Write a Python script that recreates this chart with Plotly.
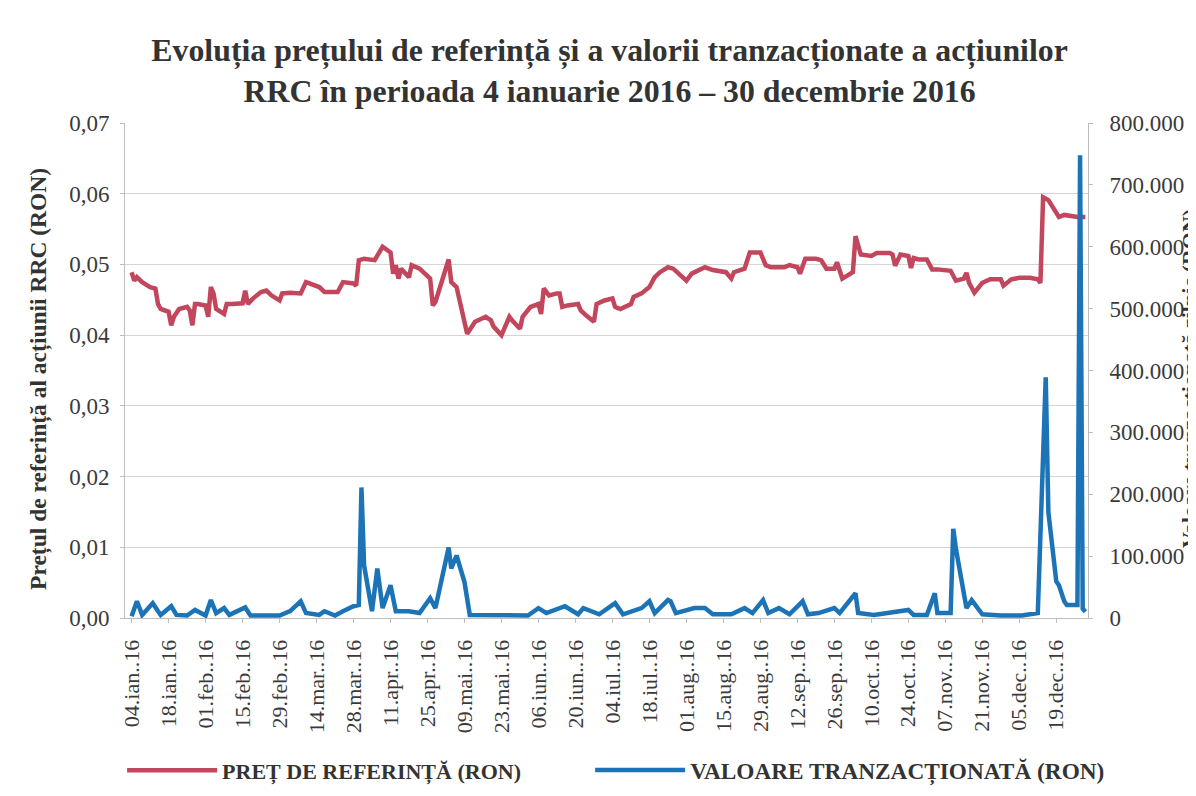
import plotly.graph_objects as go

# Reference price (RON) at its turning points
price_dates = [
    "2016-01-04", "2016-01-05", "2016-01-06", "2016-01-08", "2016-01-11", "2016-01-13", "2016-01-14",
    "2016-01-15", "2016-01-18", "2016-01-19", "2016-01-20", "2016-01-22", "2016-01-25", "2016-01-26",
    "2016-01-27", "2016-01-28", "2016-01-29",
    "2016-02-01", "2016-02-02", "2016-02-03", "2016-02-04", "2016-02-05", "2016-02-08", "2016-02-09",
    "2016-02-11", "2016-02-15", "2016-02-16", "2016-02-17", "2016-02-19", "2016-02-22", "2016-02-24",
    "2016-02-26", "2016-02-29",
    "2016-03-01", "2016-03-04", "2016-03-08", "2016-03-10", "2016-03-14", "2016-03-15", "2016-03-17",
    "2016-03-22", "2016-03-24", "2016-03-28", "2016-03-29", "2016-03-30",
    "2016-04-01", "2016-04-05", "2016-04-08", "2016-04-11", "2016-04-12", "2016-04-13", "2016-04-14",
    "2016-04-15", "2016-04-18", "2016-04-19", "2016-04-22", "2016-04-26", "2016-04-27", "2016-04-28",
    "2016-05-03", "2016-05-04", "2016-05-06", "2016-05-10", "2016-05-13", "2016-05-17", "2016-05-19",
    "2016-05-20", "2016-05-23", "2016-05-26", "2016-05-27", "2016-05-30", "2016-05-31",
    "2016-06-03", "2016-06-06", "2016-06-07", "2016-06-08", "2016-06-10", "2016-06-13", "2016-06-14",
    "2016-06-15", "2016-06-17", "2016-06-21", "2016-06-22", "2016-06-24", "2016-06-27", "2016-06-28",
    "2016-07-01", "2016-07-04", "2016-07-05", "2016-07-07", "2016-07-11", "2016-07-12", "2016-07-15",
    "2016-07-18", "2016-07-20", "2016-07-22", "2016-07-25", "2016-07-27", "2016-07-29",
    "2016-08-01", "2016-08-03", "2016-08-08", "2016-08-11", "2016-08-16", "2016-08-18", "2016-08-19",
    "2016-08-23", "2016-08-25", "2016-08-29", "2016-08-31",
    "2016-09-02", "2016-09-07", "2016-09-09", "2016-09-12", "2016-09-13", "2016-09-15", "2016-09-19",
    "2016-09-21", "2016-09-23", "2016-09-26", "2016-09-27", "2016-09-29",
    "2016-10-03", "2016-10-04", "2016-10-06", "2016-10-10", "2016-10-12", "2016-10-17", "2016-10-18",
    "2016-10-19", "2016-10-21", "2016-10-24", "2016-10-25", "2016-10-26", "2016-10-28", "2016-10-31",
    "2016-11-02", "2016-11-04", "2016-11-09", "2016-11-11", "2016-11-14", "2016-11-15", "2016-11-16",
    "2016-11-18", "2016-11-21", "2016-11-24", "2016-11-28", "2016-11-29",
    "2016-12-02", "2016-12-05", "2016-12-09", "2016-12-12", "2016-12-13", "2016-12-14", "2016-12-16",
    "2016-12-20", "2016-12-22", "2016-12-27", "2016-12-30",
]
price_values = [
    0.0489, 0.0477, 0.0482, 0.0475, 0.0468, 0.0466, 0.0444,
    0.0437, 0.0433, 0.0414, 0.0426, 0.0437, 0.0440, 0.0435,
    0.0414, 0.0444, 0.0444,
    0.0442, 0.0426, 0.0468, 0.0459, 0.0437, 0.0430, 0.0444,
    0.0444, 0.0445, 0.0463, 0.0444, 0.0452, 0.0461, 0.0463,
    0.0456, 0.0449,
    0.0459, 0.0460, 0.0459, 0.0475, 0.0468, 0.0468, 0.0461,
    0.0461, 0.0475, 0.0473, 0.0470, 0.0506,
    0.0508, 0.0506, 0.0525, 0.0517, 0.0487, 0.0499, 0.0480,
    0.0494, 0.0482, 0.0499, 0.0494, 0.0480, 0.0442, 0.0447,
    0.0507, 0.0475, 0.0468, 0.0402, 0.0419, 0.0426, 0.0421,
    0.0412, 0.0400, 0.0426, 0.0421, 0.0409, 0.0426,
    0.0440, 0.0444, 0.0430, 0.0466, 0.0456, 0.0459, 0.0459,
    0.0440, 0.0442, 0.0444, 0.0435, 0.0428, 0.0419, 0.0444,
    0.0449, 0.0452, 0.0440, 0.0437, 0.0444, 0.0454, 0.0459,
    0.0468, 0.0482, 0.0489, 0.0496, 0.0494, 0.0487,
    0.0477, 0.0487, 0.0496, 0.0492, 0.0489, 0.0480, 0.0489,
    0.0494, 0.0517, 0.0517, 0.0499,
    0.0496, 0.0496, 0.0499, 0.0496, 0.0487, 0.0508, 0.0508,
    0.0506, 0.0494, 0.0494, 0.0503, 0.0480,
    0.0489, 0.0540, 0.0514, 0.0512, 0.0516, 0.0516, 0.0514,
    0.0498, 0.0514, 0.0512, 0.0495, 0.0509, 0.0507, 0.0507,
    0.0493, 0.0493, 0.0491, 0.0477, 0.0480, 0.0488, 0.0474,
    0.0460, 0.0474, 0.0479, 0.0479, 0.0470,
    0.0479, 0.0481, 0.0481, 0.0479, 0.0474, 0.0595, 0.0591,
    0.0567, 0.0570, 0.0567, 0.0567,
]

# Daily traded value (RON)
volume_dates = [
    "2016-01-04", "2016-01-06", "2016-01-08", "2016-01-12", "2016-01-14", "2016-01-15", "2016-01-19",
    "2016-01-21", "2016-01-25", "2016-01-28", "2016-02-01", "2016-02-03", "2016-02-05", "2016-02-08",
    "2016-02-10", "2016-02-16", "2016-02-18", "2016-02-23", "2016-02-29", "2016-03-04", "2016-03-08",
    "2016-03-10", "2016-03-15", "2016-03-17", "2016-03-21", "2016-03-24", "2016-03-28", "2016-03-30",
    "2016-03-31", "2016-04-01", "2016-04-04", "2016-04-06", "2016-04-08", "2016-04-11", "2016-04-13",
    "2016-04-18", "2016-04-22", "2016-04-26", "2016-04-28", "2016-05-03", "2016-05-04", "2016-05-06",
    "2016-05-09", "2016-05-11", "2016-05-20", "2016-06-02", "2016-06-06", "2016-06-09", "2016-06-16",
    "2016-06-21", "2016-06-23", "2016-06-29", "2016-07-05", "2016-07-08", "2016-07-15", "2016-07-18",
    "2016-07-20", "2016-07-25", "2016-07-26", "2016-07-28", "2016-08-04", "2016-08-08", "2016-08-11",
    "2016-08-18", "2016-08-23", "2016-08-26", "2016-08-30", "2016-09-01", "2016-09-05", "2016-09-09",
    "2016-09-14", "2016-09-16", "2016-09-20", "2016-09-26", "2016-09-28", "2016-10-04", "2016-10-05",
    "2016-10-11", "2016-10-24", "2016-10-26", "2016-10-31", "2016-11-03", "2016-11-04", "2016-11-09",
    "2016-11-10", "2016-11-11", "2016-11-15", "2016-11-17", "2016-11-21", "2016-11-28", "2016-12-06",
    "2016-12-12", "2016-12-15", "2016-12-16", "2016-12-19", "2016-12-20", "2016-12-22", "2016-12-23",
    "2016-12-27", "2016-12-28", "2016-12-29", "2016-12-30",
]
volume_values = [
    3000, 27000, 5000, 24000, 11000, 5000, 19000,
    5000, 4000, 13000, 4000, 29000, 8000, 16000,
    5000, 17000, 4000, 4000, 4000, 11000, 27000,
    8000, 5000, 11000, 4000, 11000, 19000, 21000,
    211000, 85000, 11000, 80000, 16000, 53000, 11000,
    11000, 8000, 32000, 16000, 114000, 80000, 101000,
    58000, 5000, 4000, 4000, 16000, 8000, 19000,
    6000, 16000, 6000, 24000, 6000, 16000, 27000,
    8000, 29000, 27000, 8000, 16000, 16000, 6000,
    6000, 16000, 8000, 29000, 8000, 16000, 6000,
    27000, 6000, 8000, 16000, 8000, 40000, 8000,
    5000, 13000, 5000, 5000, 40000, 8000, 8000,
    144000, 112000, 16000, 29000, 6000, 4000, 4000,
    8000, 389000, 171000, 59000, 53000, 27000, 21000,
    21000, 748000, 15000, 10000,
]

tick_dates = [
    "2016-01-04", "2016-01-18", "2016-02-01", "2016-02-15", "2016-02-29", "2016-03-14", "2016-03-28",
    "2016-04-11", "2016-04-25", "2016-05-09", "2016-05-23", "2016-06-06", "2016-06-20", "2016-07-04",
    "2016-07-18", "2016-08-01", "2016-08-15", "2016-08-29", "2016-09-12", "2016-09-26", "2016-10-10",
    "2016-10-24", "2016-11-07", "2016-11-21", "2016-12-05", "2016-12-19",
]
tick_labels = [
    "04.ian..16", "18.ian..16", "01.feb..16", "15.feb..16", "29.feb..16", "14.mar..16", "28.mar..16",
    "11.apr..16", "25.apr..16", "09.mai..16", "23.mai..16", "06.iun..16", "20.iun..16", "04.iul..16",
    "18.iul..16", "01.aug..16", "15.aug..16", "29.aug..16", "12.sep..16", "26.sep..16", "10.oct..16",
    "24.oct..16", "07.nov..16", "21.nov..16", "05.dec..16", "19.dec..16",
]

FONT = "Liberation Serif, Times New Roman, serif"
TEXT = "#3a3a3a"
DARK = "#333333"
RED = "#c2475c"
BLUE = "#1c74b6"
GRID = "#d4d4d4"
AXIS = "#bdbdbd"

fig = go.Figure()
fig.add_trace(go.Scatter(
    x=price_dates, y=price_values, mode="lines", name="PREȚ DE REFERINȚĂ (RON)",
    line=dict(color=RED, width=4.5), yaxis="y", legend="legend", showlegend=True,
))
fig.add_trace(go.Scatter(
    x=volume_dates, y=volume_values, mode="lines", name="VALOARE TRANZACȚIONATĂ (RON)",
    line=dict(color=BLUE, width=4.5), yaxis="y2", legend="legend2", showlegend=True,
))

fig.update_layout(
    width=1196,
    height=796,
    showlegend=True,
    paper_bgcolor="white",
    plot_bgcolor="white",
    separators=",.",
    margin=dict(l=117, r=116, t=115, b=184),
    font=dict(family=FONT, color=TEXT),
    title=dict(
        text="Evoluția prețului de referință și a valorii tranzacționate a acțiunilor<br>"
             "RRC în perioada 4 ianuarie 2016 – 30 decembrie 2016",
        x=0.503, xanchor="center", y=0.934, yanchor="top",
        font=dict(family=FONT, size=31.8, color=DARK, weight="bold"),
    ),
    xaxis=dict(
        type="date",
        range=["2016-01-01 12:00", "2016-12-31 00:00"],
        tickmode="array", tickvals=tick_dates, ticktext=tick_labels,
        tickangle=-90, tickfont=dict(family=FONT, size=22, color=TEXT),
        ticklabelstandoff=8,
        showgrid=False, showline=True, linecolor=AXIS, linewidth=1,
        ticks="outside", ticklen=4, tickcolor=AXIS,
        automargin=False,
    ),
    yaxis=dict(
        range=[0, 0.07], dtick=0.01, tickformat=".2f",
        tickfont=dict(family=FONT, size=23, color=TEXT),
        ticklabelstandoff=6,
        showgrid=True, gridcolor=GRID, gridwidth=1.2,
        showline=True, linecolor=AXIS, zeroline=False,
        ticks="outside", ticklen=4, tickcolor=AXIS,
        automargin=False,
    ),
    yaxis2=dict(
        range=[0, 800000], dtick=100000, tickformat=",d",
        overlaying="y", side="right",
        tickfont=dict(family=FONT, size=23, color=TEXT),
        ticklabelstandoff=12,
        showgrid=False, showline=True, linecolor=AXIS, zeroline=False,
        ticks="outside", ticklen=4, tickcolor=AXIS,
        automargin=False,
    ),
    legend=dict(
        orientation="h", x=-0.003, xanchor="left", y=-0.308, yanchor="middle",
        itemwidth=90, bgcolor="rgba(0,0,0,0)", visible=True,
        font=dict(family=FONT, size=22, color=DARK, weight="bold"),
    ),
    legend2=dict(
        orientation="h", x=0.483, xanchor="left", y=-0.308, yanchor="middle",
        itemwidth=90, bgcolor="rgba(0,0,0,0)", visible=True,
        font=dict(family=FONT, size=23.3, color=DARK, weight="bold"),
    ),
    annotations=[
        dict(
            text="Prețul de referință al acțiunii RRC (RON)",
            xref="paper", yref="paper", x=-0.0893, y=0.483,
            xanchor="center", yanchor="middle", textangle=-90, showarrow=False,
            font=dict(family=FONT, size=23.5, color=DARK, weight="bold"),
        ),
        dict(
            text="Valoare tranzacționată zilnic (RON)",
            xref="paper", yref="paper", x=1.106, y=0.483,
            xanchor="center", yanchor="middle", textangle=-90, showarrow=False,
            font=dict(family=FONT, size=22, color=DARK, weight="bold"),
        ),
    ],
)

fig.write_html("out.html")
